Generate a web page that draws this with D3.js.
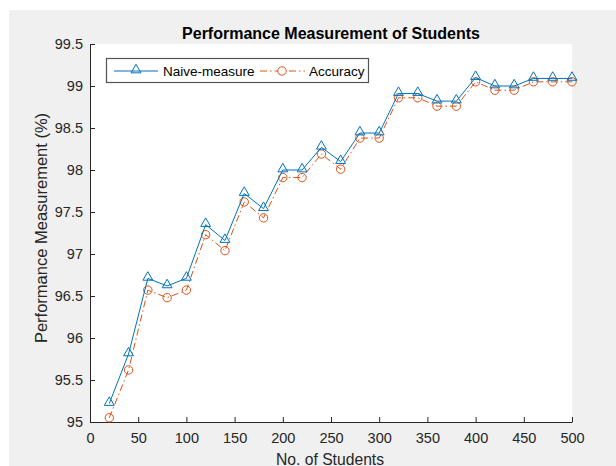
<!DOCTYPE html>
<html>
<head>
<meta charset="utf-8">
<script src="https://cdn.jsdelivr.net/npm/d3@7"></script>
<style>
  body { margin: 0; background: #fff; }
  text { font-family: "Liberation Sans", Arial, sans-serif; }
</style>
</head>
<body>
<div id="chart"></div>
<script>
// Performance Measurement of Students (MATLAB-style line chart)

const students = [20, 40, 60, 80, 100, 120, 140, 160, 180, 200, 220, 240, 260,
    280, 300, 320, 340, 360, 380, 400, 420, 440, 460, 480, 500];
const naiveMeasure = [95.22, 95.81, 96.71, 96.62, 96.71, 97.35, 97.16, 97.72, 97.54, 98.0,
    98.0, 98.27, 98.1, 98.44, 98.44, 98.91, 98.91, 98.82, 98.82, 99.1, 99.0, 99.0, 99.09, 99.09, 99.09];
const accuracy = [95.05, 95.62, 96.57, 96.48, 96.57, 97.23, 97.04, 97.62, 97.43, 97.91,
    97.91, 98.19, 98.01, 98.38, 98.38, 98.86, 98.86, 98.76, 98.76, 99.05, 98.95, 98.95, 99.05, 99.05, 99.05];
const xTicks = [0, 50, 100, 150, 200, 250, 300, 350, 400, 450, 500];
const yTicks = [95, 95.5, 96, 96.5, 97, 97.5, 98, 98.5, 99, 99.5];

function drawChart() {
    const width = 616, height = 466;
    const left = 90, top = 44, right = 572, bottom = 422;
    const axisColor = "#262626";
    const blue = "#0072BD", orange = "#D95319";

    const svg = d3.select("#chart").append("svg")
        .attr("width", width)
        .attr("height", height);

    // figure background
    svg.append("rect")
        .attr("x", 9).attr("y", 10)
        .attr("width", width - 9).attr("height", height - 10)
        .attr("fill", "#f0f0f0");

    svg.append("rect")
        .attr("x", left).attr("y", top)
        .attr("width", right - left).attr("height", bottom - top)
        .attr("fill", "#fff");

    const x = d3.scaleLinear().domain([0, 500]).range([left, right]);
    const y = d3.scaleLinear().domain([95, 99.5]).range([bottom, top]);

    const xAxis = svg.append("g")
        .attr("transform", `translate(0,${bottom})`)
        .call(d3.axisBottom(x).tickValues(xTicks).tickSizeInner(-5).tickSizeOuter(0).tickPadding(11));
    const yAxis = svg.append("g")
        .attr("transform", `translate(${left},0)`)
        .call(d3.axisLeft(y).tickValues(yTicks).tickFormat(d3.format("")).tickSizeInner(-5).tickSizeOuter(0).tickPadding(7));

    [xAxis, yAxis].forEach(g => {
        g.select(".domain").attr("stroke", axisColor);
        g.selectAll(".tick line").attr("stroke", axisColor);
        g.selectAll(".tick text")
            .attr("fill", axisColor)
            .style("font-size", "14.5px")
            .style("font-family", "'Liberation Sans', Arial, sans-serif");
    });

    // title and labels
    svg.append("text")
        .attr("x", 331).attr("y", 39)
        .attr("text-anchor", "middle")
        .attr("fill", "#000")
        .style("font-size", "16px")
        .style("font-weight", "bold")
        .text("Performance Measurement of Students");

    svg.append("text")
        .attr("x", 330).attr("y", 465)
        .attr("text-anchor", "middle")
        .attr("fill", axisColor)
        .style("font-size", "15.7px")
        .text("No. of Students");

    svg.append("text")
        .attr("transform", `translate(47,228) rotate(-90)`)
        .attr("text-anchor", "middle")
        .attr("fill", axisColor)
        .style("font-size", "16.5px")
        .text("Performance Measurement (%)");

    const line = d3.line().x(d => x(d[0])).y(d => y(d[1]));
    const naiveData = students.map((s, i) => [s, naiveMeasure[i]]);
    const accData = students.map((s, i) => [s, accuracy[i]]);

    const tri = d3.symbol().type(d3.symbolTriangle).size(42);

    svg.append("path")
        .datum(accData)
        .attr("d", line)
        .attr("fill", "none")
        .attr("stroke", orange)
        .attr("stroke-width", 1)
        .attr("stroke-dasharray", "7,3,1.5,3");

    svg.selectAll(".acc")
        .data(accData)
        .enter().append("circle")
        .attr("cx", d => x(d[0]))
        .attr("cy", d => y(d[1]))
        .attr("r", 4.2)
        .attr("fill", "none")
        .attr("stroke", orange);

    svg.append("path")
        .datum(naiveData)
        .attr("d", line)
        .attr("fill", "none")
        .attr("stroke", blue)
        .attr("stroke-width", 1);

    svg.selectAll(".naive")
        .data(naiveData)
        .enter().append("path")
        .attr("d", tri)
        .attr("transform", d => `translate(${x(d[0])},${y(d[1]) - 1})`)
        .attr("fill", "none")
        .attr("stroke", blue);

    // legend
    const lg = svg.append("g");
    lg.append("rect")
        .attr("x", 106.5).attr("y", 58.5)
        .attr("width", 262).attr("height", 24)
        .attr("fill", "#fff")
        .attr("stroke", "#555")
        .attr("stroke-width", 1.2);
    lg.append("line")
        .attr("x1", 114).attr("x2", 158).attr("y1", 71).attr("y2", 71)
        .attr("stroke", blue);
    lg.append("path")
        .attr("d", tri)
        .attr("transform", "translate(136,70)")
        .attr("fill", "none")
        .attr("stroke", blue);
    lg.append("text")
        .attr("x", 163).attr("y", 76)
        .attr("fill", "#000")
        .style("font-size", "13.5px")
        .text("Naive-measure");
    lg.append("line")
        .attr("x1", 260).attr("x2", 305).attr("y1", 71).attr("y2", 71)
        .attr("stroke", orange)
        .attr("stroke-dasharray", "7,3,1.5,3");
    lg.append("circle")
        .attr("cx", 282).attr("cy", 71).attr("r", 4.2)
        .attr("fill", "#fff")
        .attr("stroke", orange);
    lg.append("text")
        .attr("x", 309).attr("y", 76)
        .attr("fill", "#000")
        .style("font-size", "13.5px")
        .text("Accuracy");
}

drawChart();
</script>
</body>
</html>
